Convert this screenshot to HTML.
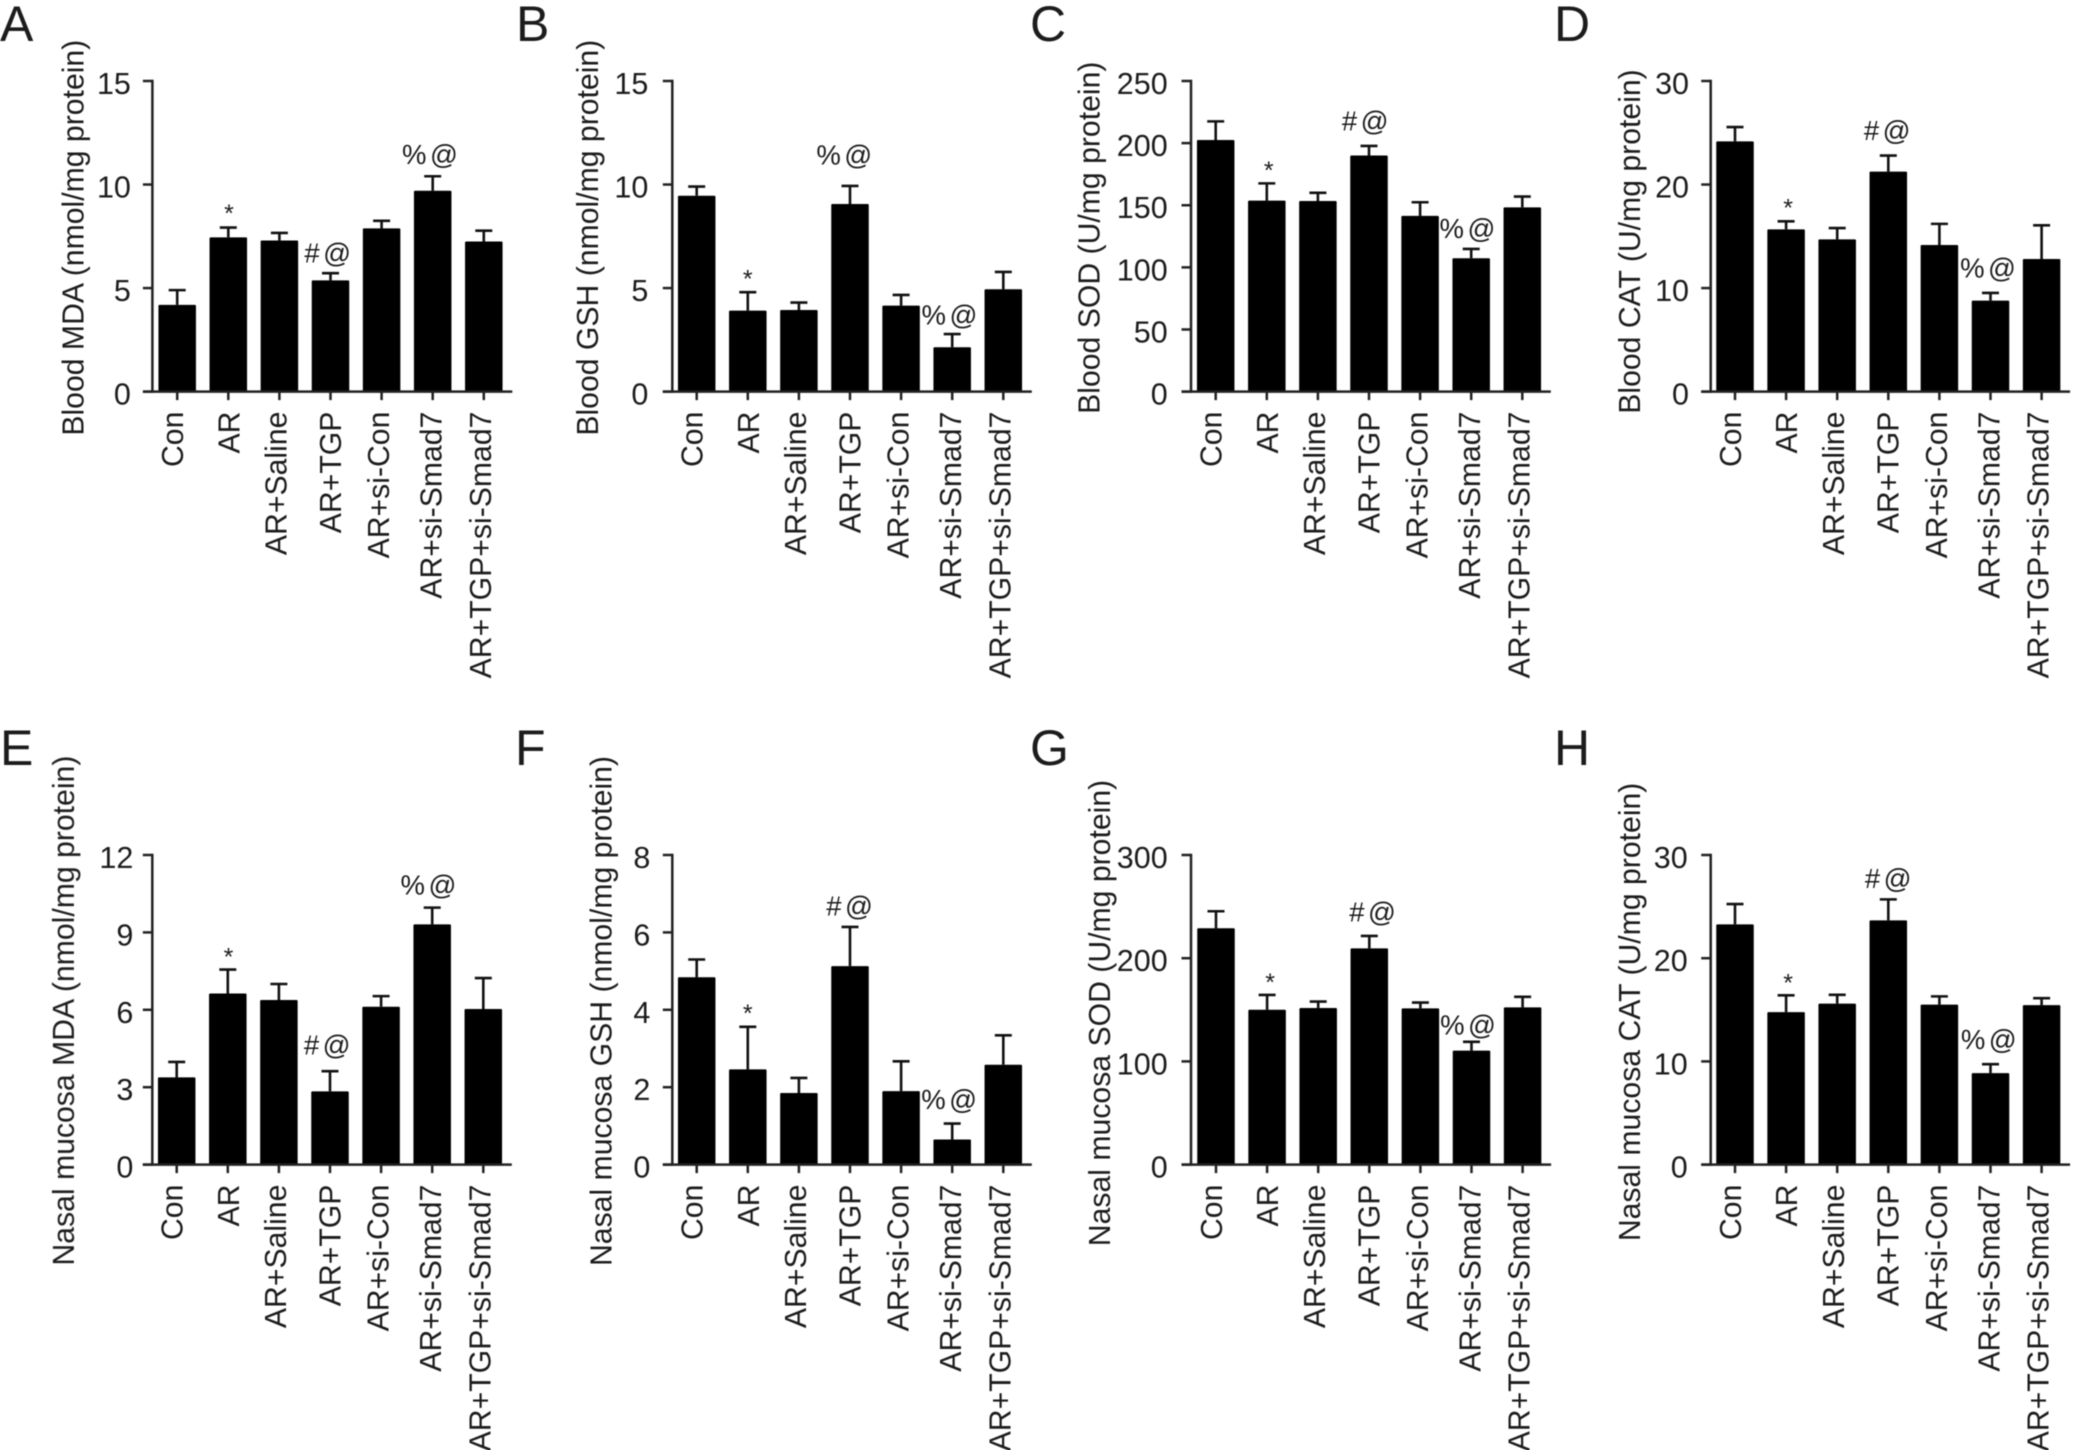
<!DOCTYPE html>
<html lang="en">
<head>
<meta charset="utf-8">
<title>Oxidative stress markers in blood and nasal mucosa</title>
<style>
html,body{margin:0;padding:0;background:#fff;width:2074px;height:1450px;overflow:hidden}
svg{display:block}
text{font-family:"Liberation Sans",Arial,sans-serif;fill:#1c1c1c}
#figure-root{filter:blur(0.6px)}
</style>
</head>
<body>
<svg id="figure" xmlns="http://www.w3.org/2000/svg" width="2074" height="1450" viewBox="0 0 2074 1450">
<g id="figure-root"></g>
</svg>
<script>
const categories = ["Con", "AR", "AR+Saline", "AR+TGP", "AR+si-Con", "AR+si-Smad7", "AR+TGP+si-Smad7"];

const bloodMdaValues = [4.19, 7.45, 7.3, 5.37, 7.88, 9.7, 7.25];
const bloodMdaErrorTops = [4.9, 7.92, 7.66, 5.72, 8.25, 10.4, 7.77];
const bloodMdaTicks = [0, 5, 10, 15];

const bloodGshValues = [9.46, 3.91, 3.94, 9.06, 4.15, 2.14, 4.94];
const bloodGshErrorTops = [9.9, 4.8, 4.3, 9.93, 4.67, 2.78, 5.78];
const bloodGshTicks = [0, 5, 10, 15];

const bloodSodValues = [202.5, 153.7, 153.4, 190, 141.4, 107.3, 148.3];
const bloodSodErrorTops = [217.5, 167.6, 160, 197.7, 152.4, 114.8, 157];
const bloodSodTicks = [0, 50, 100, 150, 200, 250];

const bloodCatValues = [24.17, 15.67, 14.7, 21.25, 14.16, 8.79, 12.81];
const bloodCatErrorTops = [25.55, 16.45, 15.8, 22.8, 16.2, 9.53, 16.06];
const bloodCatTicks = [0, 10, 20, 30];

const mucosaMdaValues = [3.38, 6.63, 6.38, 2.84, 6.12, 9.31, 6.03];
const mucosaMdaErrorTops = [3.98, 7.56, 7.0, 3.62, 6.53, 9.96, 7.23];
const mucosaMdaTicks = [0, 3, 6, 9, 12];

const mucosaGshValues = [4.84, 2.46, 1.85, 5.13, 1.9, 0.65, 2.58];
const mucosaGshErrorTops = [5.3, 3.56, 2.24, 6.14, 2.67, 1.06, 3.34];
const mucosaGshTicks = [0, 2, 4, 6, 8];

const mucosaSodValues = [229, 150, 151.8, 209.5, 151.4, 110.4, 152.3];
const mucosaSodErrorTops = [245.5, 164.4, 158, 221.6, 157, 119, 162.6];
const mucosaSodTicks = [0, 100, 200, 300];

const mucosaCatValues = [23.28, 14.78, 15.6, 23.67, 15.5, 8.86, 15.45];
const mucosaCatErrorTops = [25.25, 16.4, 16.45, 25.7, 16.3, 9.73, 16.13];
const mucosaCatTicks = [0, 10, 20, 30];

/* Significance markers: the bar each symbol sits above */
const bloodMdaMarks = [[1, "*"], [3, "#@"], [5, "%@"]];
const bloodGshMarks = [[1, "*"], [3, "%@"], [5, "%@"]];
const bloodSodMarks = [[1, "*"], [3, "#@"], [5, "%@"]];
const bloodCatMarks = [[1, "*"], [3, "#@"], [5, "%@"]];
const mucosaMdaMarks = [[1, "*"], [3, "#@"], [5, "%@"]];
const mucosaGshMarks = [[1, "*"], [3, "#@"], [5, "%@"]];
const mucosaSodMarks = [[1, "*"], [3, "#@"], [5, "%@"]];
const mucosaCatMarks = [[1, "*"], [3, "#@"], [5, "%@"]];

/* Layout only; no data values here */
const TOP_ROW = {top: 81, bottom: 391.6, letterY: 41};
const BOTTOM_ROW = {top: 855, bottom: 1164.6, letterY: 765};
const BAR_STEP = 51.1;
const BAR_WIDTH = 37.5;
const CAP_WIDTH = 17;
const LABEL_SHIFT = [6, 11, 7, 10.4, 7.6, 9, 7];

const panels = [
  {letter: "A", slug: "blood-mda", title: "Blood MDA (nmol/mg protein)", values: bloodMdaValues, errs: bloodMdaErrorTops, ticks: bloodMdaTicks, marks: bloodMdaMarks,
   row: TOP_ROW, axisX: 152.4, firstX: 177.2, letterX: 0, titleX: 83.5, titleY: 237.7, tickGap: 21.5,
   markDx: [0.7, -1, -1], markGap: [14.7, 20, 22]},
  {letter: "B", slug: "blood-gsh", title: "Blood GSH (nmol/mg protein)", values: bloodGshValues, errs: bloodGshErrorTops, ticks: bloodGshTicks, marks: bloodGshMarks,
   row: TOP_ROW, axisX: 672.3, firstX: 696.7, letterX: 516, titleX: 598, titleY: 237.7, tickGap: 24,
   markDx: [0, -4, -1], markGap: [13.7, 31, 19]},
  {letter: "C", slug: "blood-sod", title: "Blood SOD (U/mg protein)", values: bloodSodValues, errs: bloodSodErrorTops, ticks: bloodSodTicks, marks: bloodSodMarks,
   row: TOP_ROW, axisX: 1191, firstX: 1215.7, letterX: 1030, titleX: 1099.5, titleY: 237.7, tickGap: 23.3,
   markDx: [2, -2, -2], markGap: [13.3, 25, 20.7]},
  {letter: "D", slug: "blood-cat", title: "Blood CAT (U/mg protein)", values: bloodCatValues, errs: bloodCatErrorTops, ticks: bloodCatTicks, marks: bloodCatMarks,
   row: TOP_ROW, axisX: 1710.7, firstX: 1735, letterX: 1554, titleX: 1640, titleY: 241.5, tickGap: 21.7,
   markDx: [2, 0.7, -0.7], markGap: [13.7, 25, 24.7]},
  {letter: "E", slug: "mucosa-mda", title: "Nasal mucosa MDA (nmol/mg protein)", values: mucosaMdaValues, errs: mucosaMdaErrorTops, ticks: mucosaMdaTicks, marks: mucosaMdaMarks,
   row: BOTTOM_ROW, axisX: 152.3, firstX: 176.7, letterX: 0, titleX: 74, titleY: 1010.6, tickGap: 19,
   markDx: [0.7, -1, -2], markGap: [13.3, 26, 22.7]},
  {letter: "F", slug: "mucosa-gsh", title: "Nasal mucosa GSH (nmol/mg protein)", values: mucosaGshValues, errs: mucosaGshErrorTops, ticks: mucosaGshTicks, marks: mucosaGshMarks,
   row: BOTTOM_ROW, axisX: 672.3, firstX: 696.7, letterX: 515, titleX: 611.7, titleY: 1011, tickGap: 22,
   markDx: [0, 1.3, -1.3], markGap: [13.7, 21, 24]},
  {letter: "G", slug: "mucosa-sod", title: "Nasal mucosa SOD (U/mg protein)", values: mucosaSodValues, errs: mucosaSodErrorTops, ticks: mucosaSodTicks, marks: mucosaSodMarks,
   row: BOTTOM_ROW, axisX: 1191, firstX: 1216, letterX: 1030, titleX: 1110, titleY: 1013, tickGap: 23.3,
   markDx: [3, 5, -1.7], markGap: [13, 23.7, 17]},
  {letter: "H", slug: "mucosa-cat", title: "Nasal mucosa CAT (U/mg protein)", values: mucosaCatValues, errs: mucosaCatErrorTops, ticks: mucosaCatTicks, marks: mucosaCatMarks,
   row: BOTTOM_ROW, axisX: 1710.7, firstX: 1735, letterX: 1554, titleX: 1640, titleY: 1011.9, tickGap: 23,
   markDx: [2, 1.7, 0], markGap: [13, 20.7, 24.7]}
];

const NS = "http://www.w3.org/2000/svg";
const root = document.getElementById("figure-root");

function make(tag, parent, geometry) {
  const el = document.createElementNS(NS, tag);
  for (const key in geometry) {
    el.setAttribute(key, geometry[key]);
  }
  parent.appendChild(el);
  return el;
}

function slugify(label) {
  return label.toLowerCase().replace(/\+/g, "-plus-").replace(/[^a-z0-9-]+/g, "-");
}

function yScaleFor(panel) {
  const maxTick = panel.ticks[panel.ticks.length - 1];
  return function (v) {
    return panel.row.bottom - (v / maxTick) * (panel.row.bottom - panel.row.top);
  };
}

function xScaleFor(panel) {
  return function (i) {
    return panel.firstX + i * BAR_STEP;
  };
}

function drawPanel(panel) {
  const y = yScaleFor(panel);
  const x = xScaleFor(panel);
  const bottom = panel.row.bottom;
  const top = panel.row.top;

  const g = make("g", root, {});
  
  

  const letter = make("text", g, {x: panel.letterX, y: panel.row.letterY, "font-size": 50, fill: "#111"});
  letter.textContent = panel.letter;
  
  

  const title = make("text", g, {
    x: panel.titleX, y: panel.titleY, "font-size": 30.2, "text-anchor": "middle",
    transform: "rotate(-90 " + panel.titleX + " " + panel.titleY + ")"
  });
  title.textContent = panel.title;
  
  

  panel.values.forEach(function (value, i) {
    const cx = x(i);
    const errY = y(panel.errs[i]);
    const name = slugify(categories[i]);

    const stem = make("line", g, {x1: cx, x2: cx, y1: y(value), y2: errY, stroke: "#111", "stroke-width": 2.6});
    
    

    const cap = make("line", g, {x1: cx - CAP_WIDTH / 2, x2: cx + CAP_WIDTH / 2, y1: errY, y2: errY, stroke: "#111", "stroke-width": 2.6});
    
    

    const bar = make("rect", g, {x: cx - BAR_WIDTH / 2, y: y(value), width: BAR_WIDTH, height: bottom - y(value), fill: "#000", rx: 1});
    
    
  });

  const yAxis = make("line", g, {x1: panel.axisX, x2: panel.axisX, y1: top - 1.2, y2: bottom + 1.2, stroke: "#222", "stroke-width": 2.5});
  
  

  const xAxis = make("line", g, {x1: panel.axisX - 9.5, x2: x(categories.length - 1) + 28.5, y1: bottom, y2: bottom, stroke: "#222", "stroke-width": 2.5});
  
  

  panel.ticks.forEach(function (tick) {
    const ty = y(tick);
    const mark = make("line", g, {x1: panel.axisX - 9.5, x2: panel.axisX, y1: ty, y2: ty, stroke: "#222", "stroke-width": 2.5});
    
    

    const label = make("text", g, {x: panel.axisX - panel.tickGap, y: ty + 13, "font-size": 30.5, "text-anchor": "end"});
    label.textContent = String(tick);
    
    
  });

  categories.forEach(function (category, i) {
    const cx = x(i);
    const name = slugify(category);
    const mark = make("line", g, {x1: cx, x2: cx, y1: bottom, y2: bottom + 8.5, stroke: "#222", "stroke-width": 2.5});
    
    

    const lx = cx + LABEL_SHIFT[i];
    const ly = bottom + 20;
    const label = make("text", g, {
      x: lx, y: ly, "font-size": 30.2, "text-anchor": "end",
      transform: "rotate(-90 " + lx + " " + ly + ")"
    });
    label.textContent = category;
    
    
  });

  panel.marks.forEach(function (entry, m) {
    const barIndex = entry[0];
    const symbol = entry[1];
    const mx = x(barIndex) + panel.markDx[m];
    const my = y(panel.errs[barIndex]) - panel.markGap[m];
    if (symbol === "*") {
      const star = make("text", g, {x: mx, y: my + 9, "font-size": 25, "text-anchor": "middle", fill: "#222"});
      star.textContent = symbol;
      
      
    } else {
      const sig = make("text", g, {x: mx, y: my + 9.5, "font-size": 27.5, "text-anchor": "middle", "letter-spacing": 3.5, fill: "#555"});
      sig.textContent = symbol;
      
      
    }
  });
}

panels.forEach(drawPanel);
</script>
</body>
</html>
